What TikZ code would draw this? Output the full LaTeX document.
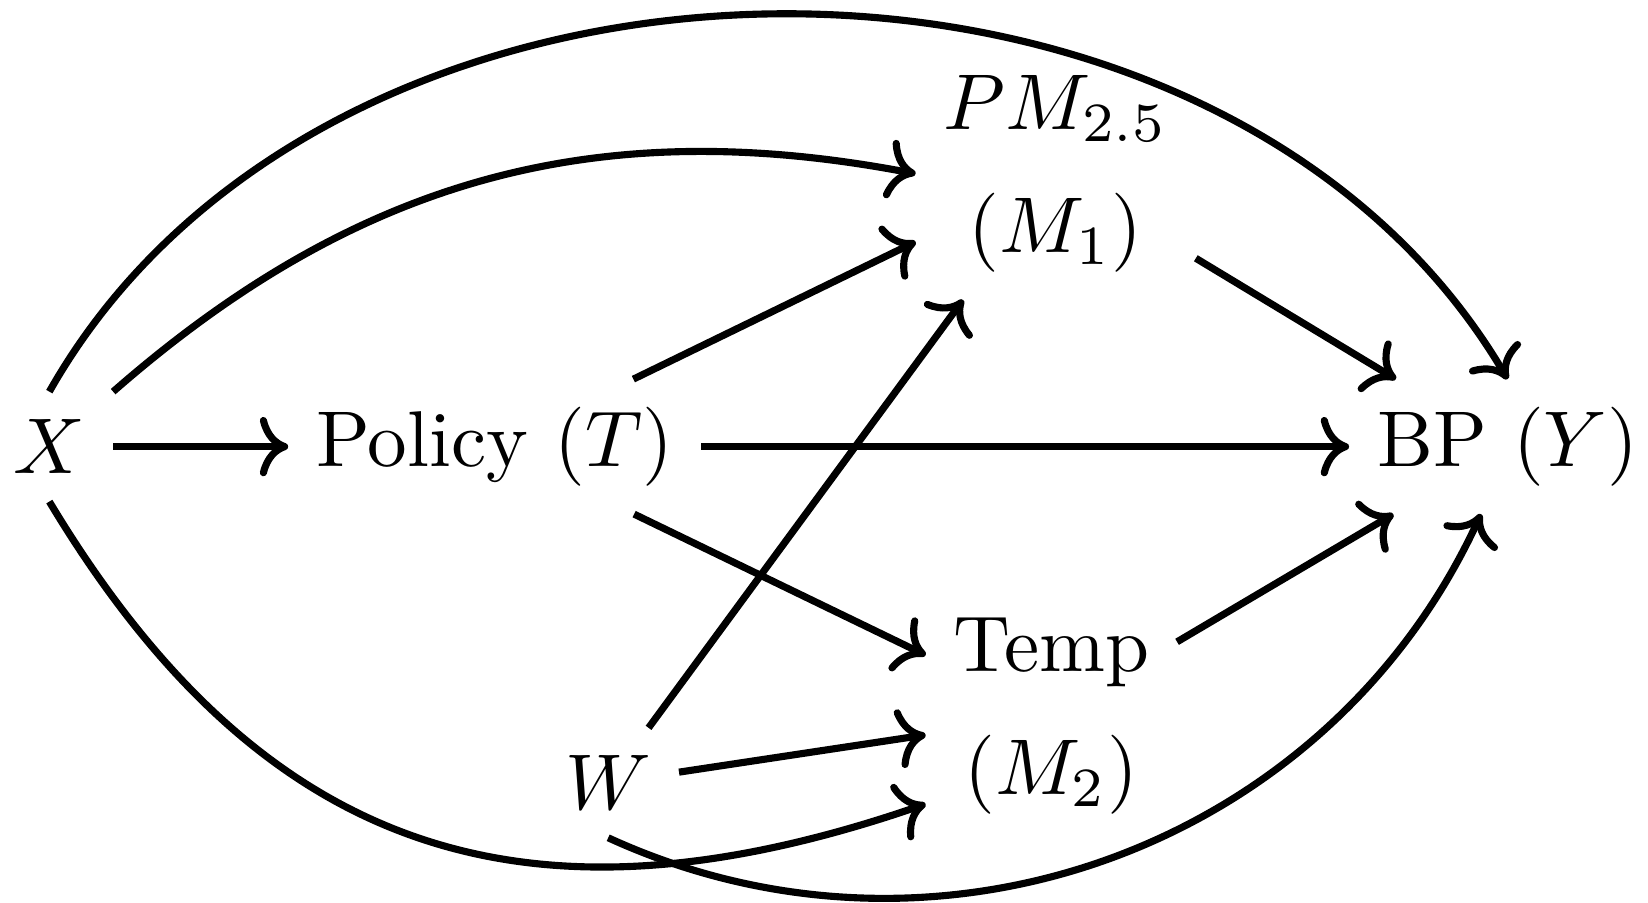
\documentclass[tikz,border=0pt]{standalone}
\usepackage{amsmath}
\usetikzlibrary{arrows.meta}
\tikzset{
  var/.style={align=center},
  cause/.style={->,line width=0.9pt}
}
\begin{document}
\begin{tikzpicture}[x=0.97cm,y=0.97cm]
\useasboundingbox (-0.226,-2.090) rectangle (7.323,2.046);
% variables
\node[var] (X) at (0,0) {$X$};
\node[var] (T) at (2.04,0) {Policy $(T)$};
\node[var] (M1) at (4.61,1.25) {$PM_{2.5}$\\[3.5pt]$(M_1)$};
\node[var] (M2) at (4.59,-1.234) {Temp\\[3.5pt]$(M_2)$};
\node[var] (W) at (2.56,-1.54) {$W$};
\node[var] (Y) at (6.68,0) {BP $(Y)$};

% straight paths
\draw[cause] (X) -- (T);
\foreach \t in {M1,M2,Y}{
  \draw[cause] (T) -- (\t);
}
\foreach \m in {M1,M2}{
  \draw[cause] (\m) -- (Y);
}
\draw[cause] (W) -- (M1);
\draw[cause] (W) -- (M2);

% curved paths
\draw[cause] (X.north east) to[bend left=26] (M1.west);
\draw[cause] (X.north) to[bend left=60] (Y.north);
\draw[cause] (X.south) to[out=-59,in=199,looseness=1.15] (M2.215);
\draw[cause] (W.south) to[bend right=45] (Y);
\end{tikzpicture}
\end{document}
